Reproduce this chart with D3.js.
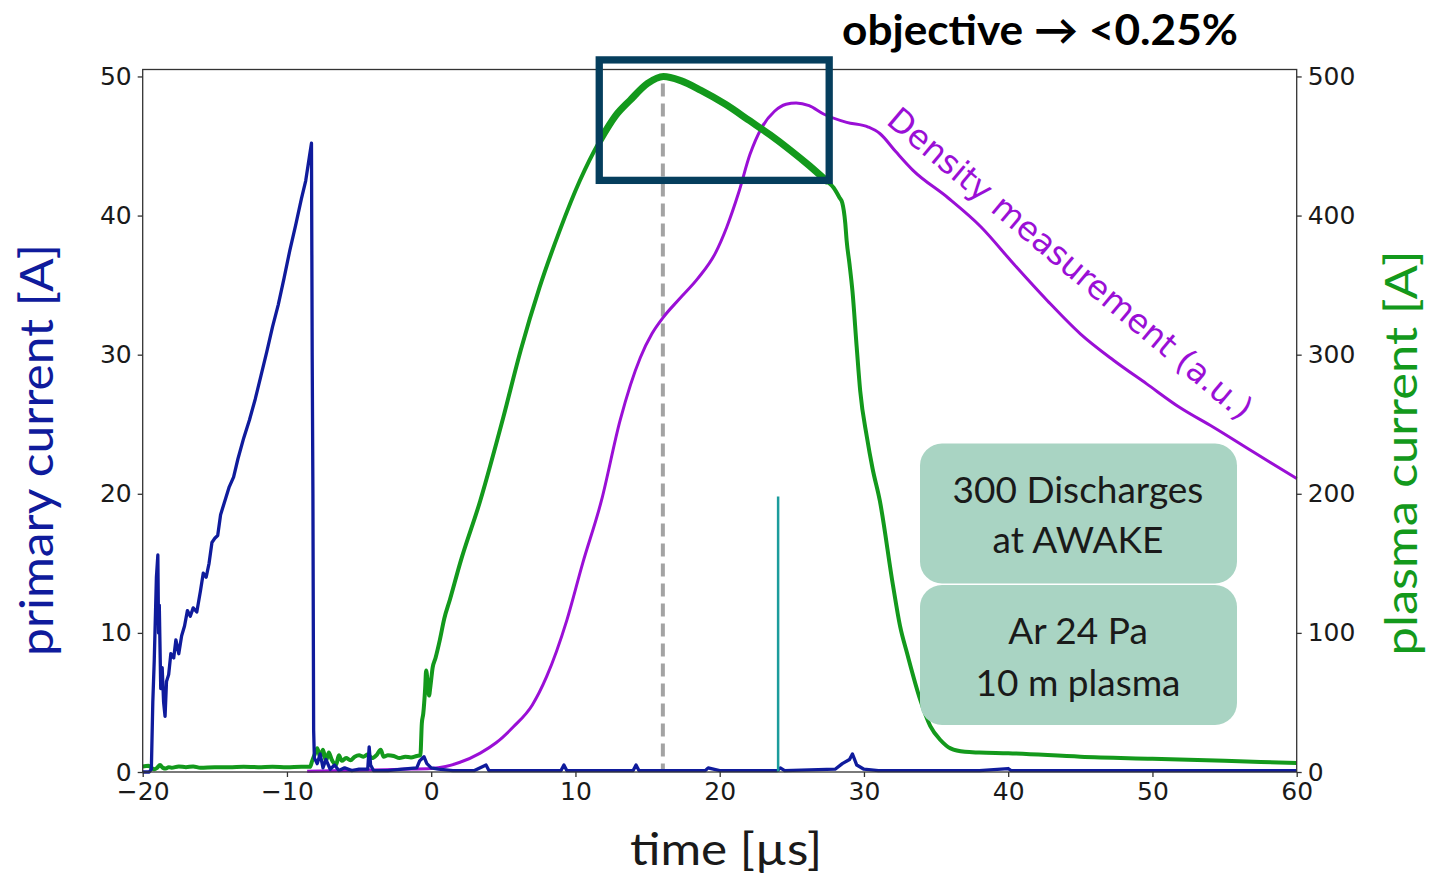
<!DOCTYPE html>
<html><head><meta charset="utf-8">
<script src="https://cdn.jsdelivr.net/npm/d3@7"></script>
<style>body{margin:0;background:#fff}svg{display:block}</style>
</head><body>
<svg id="c" width="1429" height="877"></svg>
<script>
// ---- data ----
const xTicks = [-20,-10,0,10,20,30,40,50,60];
const leftTicks = [0,10,20,30,40,50];
const rightTicks = [0,100,200,300,400,500];

// primary current [A] (left axis): [time µs, value]
const primaryCurrent = [
[-20,0],[-19.55,0],[-19.4,0.2],[-19.3,5],[-19.2,8],[-19.05,14],[-18.95,15.6],[-18.9,10],[-18.85,12],[-18.75,6],[-18.65,7.5],[-18.55,5],[-18.45,4],[-18.35,6.5],[-18.2,7],[-18.05,8.5],[-17.85,8.2],[-17.7,9.5],[-17.5,8.5],[-17.3,9.8],[-17.1,10.5],[-16.9,11.6],[-16.7,11.2],[-16.5,11.8],[-16.25,11.5],[-16.0,13],[-15.8,14.3],[-15.6,14],[-15.4,15],[-15.2,16.5],[-15.0,16.8],[-14.8,17],[-14.6,18.5],[-14.3,19.5],[-14.0,20.5],[-13.7,21.2],[-13.4,22.5],[-13.0,24.0],[-12.6,25.3],[-12.2,26.8],[-11.8,28.5],[-11.4,30.2],[-11.0,32],[-10.6,33.6],[-10.2,35.5],[-9.8,37.5],[-9.4,39.3],[-9.0,41.2],[-8.7,42.5],[-8.45,44.2],[-8.3,45.2],[-8.25,30],[-8.2,20],[-8.15,3],[-8.1,1],[-7.9,0.6],[-7.7,1.3],[-7.5,0.3],[-7.3,0.9],[-7.0,0.2],[-6.7,0.5],[-6.4,0.1],[-6.0,0.3],[-5.5,0.1],[-5.0,0.2],[-4.4,0.2],[-4.3,1.8],[-4.2,0.5],[-4.0,0.1],[-3.0,0.1],[-2.0,0.2],[-1.0,0.3],[-0.8,0.8],[-0.5,1.1],[-0.3,0.6],[0,0.3],[0.5,0.2],[1.5,0.1],[3,0.1],[3.8,0.5],[4.0,0.1],[9.0,0.1],[9.2,0.5],[9.4,0.1],[14,0.1],[14.2,0.5],[14.4,0.1],[19,0.1],[19.2,0.3],[20,0.1],[24,0.1],[24.2,0.3],[24.5,0.1],[28.0,0.2],[28.5,0.6],[29.0,0.9],[29.2,1.3],[29.5,0.5],[30,0.2],[31,0.1],[35,0.1],[38,0.1],[40,0.25],[40.2,0.1],[45,0.1],[50,0.1],[55,0.1],[60,0.1]
];

// trigger spike (left axis)
const triggerSpike = [[24.05,0],[24.05,19.8]];

// plasma current [A] (right axis)
const plasmaCurrent = [
[-20,4],[-19.6,4.5],[-19.4,3],[-19.2,2],[-19.0,3],[-18.8,5],[-18.6,3],[-18.4,2.5],[-18.2,3.5],[-18.0,3],[-17.5,4],[-17,3.5],[-16.5,4],[-16,3],[-15,3.5],[-14,3.5],[-13,3.8],[-12,3.5],[-11,3.8],[-10,3.5],[-9,3.8],[-8.4,3.7],[-8.25,8],[-8.1,12],[-7.9,17],[-7.7,11],[-7.5,16],[-7.3,8],[-7.1,14],[-6.9,9],[-6.6,5],[-6.4,12],[-6.2,8],[-5.9,10],[-5.6,8.5],[-5.3,11],[-5.0,12],[-4.7,11],[-4.4,12.5],[-4.1,10],[-3.8,12],[-3.5,16],[-3.3,11],[-3.0,12],[-2.6,11.5],[-2.2,10],[-1.8,11],[-1.4,10.5],[-1.0,11.5],[-0.75,12],[-0.65,35],[-0.55,42],[-0.42,60],[-0.35,73],[-0.25,65],[-0.15,55],[-0.05,62],[0.1,75],[0.3,82],[0.6,95],[0.9,110],[1.3,124],[2,150],[3.4,195],[5,255],[6.2,303],[7.5,348],[8.9,389],[10.3,425],[11.7,454],[12.8,472],[13.8,483],[15,495],[16.1,500],[17.3,497],[18.7,490],[20.4,480],[22.1,468],[23.5,458],[24.9,447],[26.2,436],[27.4,425],[27.9,420],[28.3,413],[28.5,409],[28.7,395],[28.8,382],[29.0,365],[29.2,346],[29.5,305],[29.74,274],[30.2,241],[30.6,218],[31.1,195],[32,135],[32.5,105],[33,85],[33.9,52],[34.6,33],[35.3,23],[36,17],[37,14.5],[38,14],[40,13.5],[45,11],[50,9.5],[55,8],[60,6.5]
];

// density measurement (a.u., drawn on right-axis scale)
const density = [
[-8.6,0.5],[-6,1],[-4,1.5],[-2,2],[0,2.6],[1,4],[2,7],[3.4,13.6],[4.5,21],[5.7,32.5],[7,48],[8,68.5],[9.4,109],[10.5,150],[11.8,195],[13.1,253],[14.5,298],[15.3,315],[16.1,327],[17.2,340],[18.5,355],[19.7,373],[20.5,392],[21.3,416],[22.1,444],[22.9,463],[23.8,475],[24.6,480],[25.3,481],[26.2,479],[27.2,473],[28.8,467],[30.3,463.6],[31.1,459],[32.2,446],[33.4,432.5],[35.8,413],[38.1,392],[40.4,365],[42.7,339],[45,315],[47.3,296],[49.6,279],[51.9,262],[54.2,248],[57,230],[60,211]
];

const peakTime = [16.06];
const highlightWindow = {t0:11.65, t1:27.59, v0:425.3, v1:511.9};
const emphasisRange = [11.6, 27.7];

const titleText = "objective \u2192 <0.25%";
const box1Lines = ["300 Discharges","at AWAKE"];
const box2Lines = ["Ar 24 Pa","10 m plasma"];

// ---- chart ----
const svg = d3.select("#c");
svg.append("rect").attr("width",1429).attr("height",877).attr("fill","#fff");
const x = d3.scaleLinear([-20,60],[142.7,1296.7]);
const yL = d3.scaleLinear([0,50.5],[772,69.5]);
const yR = d3.scaleLinear([0,505],[772,69.5]);

const BLUE="#0f1b9c", GREEN="#13991c", PURPLE="#9a0fd6", NAVY="#053e5d", TEAL="#1c9c9c";
const tickFont = "DejaVu Sans, sans-serif";
const textFont = "Lato, 'Open Sans', sans-serif";

// dashed peak marker
svg.selectAll(".peak").data(peakTime).join("line")
  .attr("x1",d=>x(d)).attr("x2",d=>x(d))
  .attr("y1",yR(500)+7).attr("y2",yL(0))
  .attr("stroke","#a3a3a3").attr("stroke-width",4).attr("stroke-dasharray","13,7");

const lineR = d3.line().x(d=>x(d[0])).y(d=>yR(d[1])).curve(d3.curveMonotoneX);
const lineL = d3.line().x(d=>x(d[0])).y(d=>yL(d[1]));

svg.append("path").attr("d",lineR(density)).attr("fill","none")
  .attr("stroke",PURPLE).attr("stroke-width",3).attr("stroke-linejoin","round");
svg.append("path").attr("d",lineR(plasmaCurrent)).attr("fill","none")
  .attr("stroke",GREEN).attr("stroke-width",4).attr("stroke-linejoin","round");
svg.append("path").attr("d",lineR(plasmaCurrent.filter(d=>d[0]>=emphasisRange[0]&&d[0]<=emphasisRange[1])))
  .attr("fill","none").attr("stroke",GREEN).attr("stroke-width",7).attr("stroke-linecap","round");
svg.append("path").attr("d",lineL(primaryCurrent)).attr("fill","none")
  .attr("stroke",BLUE).attr("stroke-width",3.3).attr("stroke-linejoin","round");
svg.append("path").attr("d",lineL(triggerSpike)).attr("fill","none")
  .attr("stroke",TEAL).attr("stroke-width",2.5);

// frame
svg.append("rect").attr("x",x(-20)).attr("y",yL.range()[1])
  .attr("width",x(60)-x(-20)).attr("height",yL.range()[0]-yL.range()[1])
  .attr("fill","none").attr("stroke","#333").attr("stroke-width",1.3);

// axes
function styleAxis(g){
  g.select(".domain").remove();
  g.selectAll(".tick line").attr("stroke","#333").attr("stroke-width",1.3);
  g.selectAll(".tick text").attr("font-family",tickFont).attr("font-size",25).attr("fill","#1a1a1a");
}
svg.append("g").attr("transform",`translate(${x(-20)},0)`)
  .call(d3.axisLeft(yL).tickValues(leftTicks).tickSize(5).tickPadding(6)).call(styleAxis);
svg.append("g").attr("transform",`translate(${x(60)},0)`)
  .call(d3.axisRight(yR).tickValues(rightTicks).tickSize(5).tickPadding(6)).call(styleAxis);
svg.append("g").attr("transform",`translate(0,${yL(0)})`)
  .call(d3.axisBottom(x).tickValues(xTicks).tickSize(5).tickPadding(5)).call(styleAxis);

// highlight box
svg.append("rect")
  .attr("x",x(highlightWindow.t0)).attr("y",yR(highlightWindow.v1))
  .attr("width",x(highlightWindow.t1)-x(highlightWindow.t0))
  .attr("height",yR(highlightWindow.v0)-yR(highlightWindow.v1))
  .attr("fill","none").attr("stroke",NAVY).attr("stroke-width",7.3);

// title
svg.append("text").attr("x",1040).attr("y",45).attr("text-anchor","middle")
  .attr("font-family",textFont).attr("font-weight",700).attr("font-size",42)
  .attr("textLength",396).attr("lengthAdjust","spacingAndGlyphs")
  .attr("fill","#000").text(titleText);

// density label
svg.append("text").attr("transform","translate(885,123) rotate(40)")
  .attr("font-family",tickFont).attr("font-size",33).attr("fill",PURPLE)
  .text("Density measurement (a.u.)");

// annotation boxes
const boxes = [{y:443.5, lines:box1Lines, base:[503,553]},{y:585, lines:box2Lines, base:[644,696]}];
boxes.forEach(b=>{
  svg.append("rect").attr("x",920).attr("y",b.y).attr("width",317).attr("height",140)
    .attr("rx",22).attr("ry",22).attr("fill","#a9d4c3");
  b.lines.forEach((l,i)=>{
    svg.append("text").attr("x",1078).attr("y",b.base[i]).attr("text-anchor","middle")
      .attr("font-family",textFont).attr("font-size",37).attr("fill","#1a1a1a").text(l);
  });
});

// axis titles
svg.append("text").attr("transform","translate(53,450) rotate(-90)").attr("text-anchor","middle")
  .attr("font-family",textFont).attr("font-size",46).attr("fill",BLUE)
  .attr("textLength",412).attr("lengthAdjust","spacingAndGlyphs").text("primary current [A]");
svg.append("text").attr("transform","translate(1417,453) rotate(-90)").attr("text-anchor","middle")
  .attr("font-family",textFont).attr("font-size",45).attr("fill",GREEN)
  .attr("textLength",405).attr("lengthAdjust","spacingAndGlyphs").text("plasma current [A]");
svg.append("text").attr("x",726).attr("y",865).attr("text-anchor","middle")
  .attr("font-family",textFont).attr("font-size",45).attr("fill","#1a1a1a")
  .attr("textLength",192).attr("lengthAdjust","spacingAndGlyphs").text("time [\u00b5s]");
</script>
</body></html>
